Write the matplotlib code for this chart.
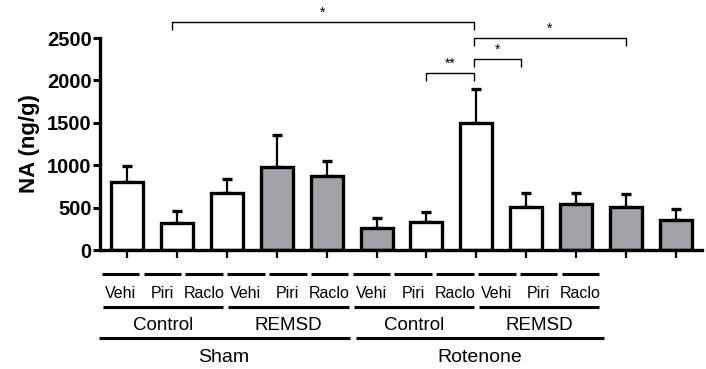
import matplotlib
matplotlib.use("Agg")
import matplotlib.pyplot as plt
import numpy as np

# data
treatments = ["Vehi", "Piri", "Raclo"] * 4
conditions = ["Control", "REMSD", "Control", "REMSD"]
lesions = ["Sham", "Rotenone"]
means = [805, 315, 676, 975, 876, 263, 334, 1501, 511, 542, 511, 354]
sems = [189, 148, 161, 381, 174, 118, 114, 398, 158, 127, 146, 130]
is_remsd = [0, 0, 0, 1, 1, 1, 0, 0, 0, 1, 1, 1]
# significance: (bar a, bar b, height, label)
sig_pairs = [(0.9, 6.95, 2685, "*"), (6.95, 10, 2496, "*"),
             (6.95, 7.9, 2252, "*"), (6.0, 6.95, 2083, "**")]

W, H = 706, 369
narrow = ["Liberation Sans Narrow", "Liberation Sans", "DejaVu Sans"]
plt.rcParams["font.family"] = ["Liberation Sans", "DejaVu Sans"]

fig = plt.figure(figsize=(W / 100, H / 100), dpi=100)
ax = fig.add_axes([100 / W, 1 - 250 / H, 602 / W, 212 / H])

x = np.arange(len(means))
colors = ["#a2a2a6" if r else "white" for r in is_remsd]
ax.errorbar(x, means, yerr=[np.zeros(len(sems)), sems], fmt="none",
            ecolor="black", elinewidth=1.6, capsize=3.4, capthick=2.4, zorder=1)
ax.bar(x, means, width=0.64, color=colors, edgecolor="black", linewidth=2.4, zorder=2)

ax.set_xlim(-0.54, 11.52)
ax.set_ylim(0, 2500)
ax.set_yticks([0, 500, 1000, 1500, 2000, 2500])
ax.set_xticks(x)
ax.set_xticklabels([])
for s in ["top", "right"]:
    ax.spines[s].set_visible(False)
for s in ["left", "bottom"]:
    ax.spines[s].set_linewidth(2.4)
ax.tick_params(axis="y", direction="out", length=5, width=2.2, labelsize=14.5, pad=1)
ax.tick_params(axis="x", direction="out", length=6, width=1.6)
for lab in ax.get_yticklabels():
    lab.set_fontweight("bold")
ax.set_ylabel("NA (ng/g)", fontsize=16, fontweight="bold", labelpad=5)

# significance brackets
drop = 95
for a, b, h, lab in sig_pairs:
    ax.plot([a, a, b, b], [h - drop, h, h, h - drop], color="black", lw=1.0,
            clip_on=False, solid_capstyle="butt")
    ax.text((a + b) / 2, h + 25, lab, ha="center", va="bottom", fontsize=10)

# group table below the axis (pixel layout)
lay = fig.add_axes([0, 0, 1, 1])
lay.set_xlim(0, W)
lay.set_ylim(H, 0)
lay.axis("off")
x0, pitch, cw = 101.7, 41.8, 37.6
for i, t in enumerate(treatments):
    l = x0 + i * pitch
    lay.plot([l, l + cw], [274, 274], color="black", lw=2.2, solid_capstyle="butt")
    lay.text(l + cw / 2, 293, t, ha="center", va="center", fontsize=11.5, family=narrow)
for g, c in enumerate(conditions):
    l = x0 + g * 3 * pitch + 1
    r = l + 3 * pitch - 5
    lay.plot([l, r], [307, 307], color="black", lw=2.2, solid_capstyle="butt")
    lay.text((l + r) / 2, 325, c, ha="center", va="center", fontsize=13.5, family=narrow)
for k, s in enumerate(lesions):
    l = x0 - 3 + k * 6 * pitch + (6 if k else 0)
    r = x0 + (k + 1) * 6 * pitch - (3 if k == 0 else -1)
    lay.plot([l, r], [338, 338], color="black", lw=2.2, solid_capstyle="butt")
    lay.text((l + r) / 2, 357, s, ha="center", va="center", fontsize=14, family=narrow)

fig.savefig("out.png", dpi=100)
